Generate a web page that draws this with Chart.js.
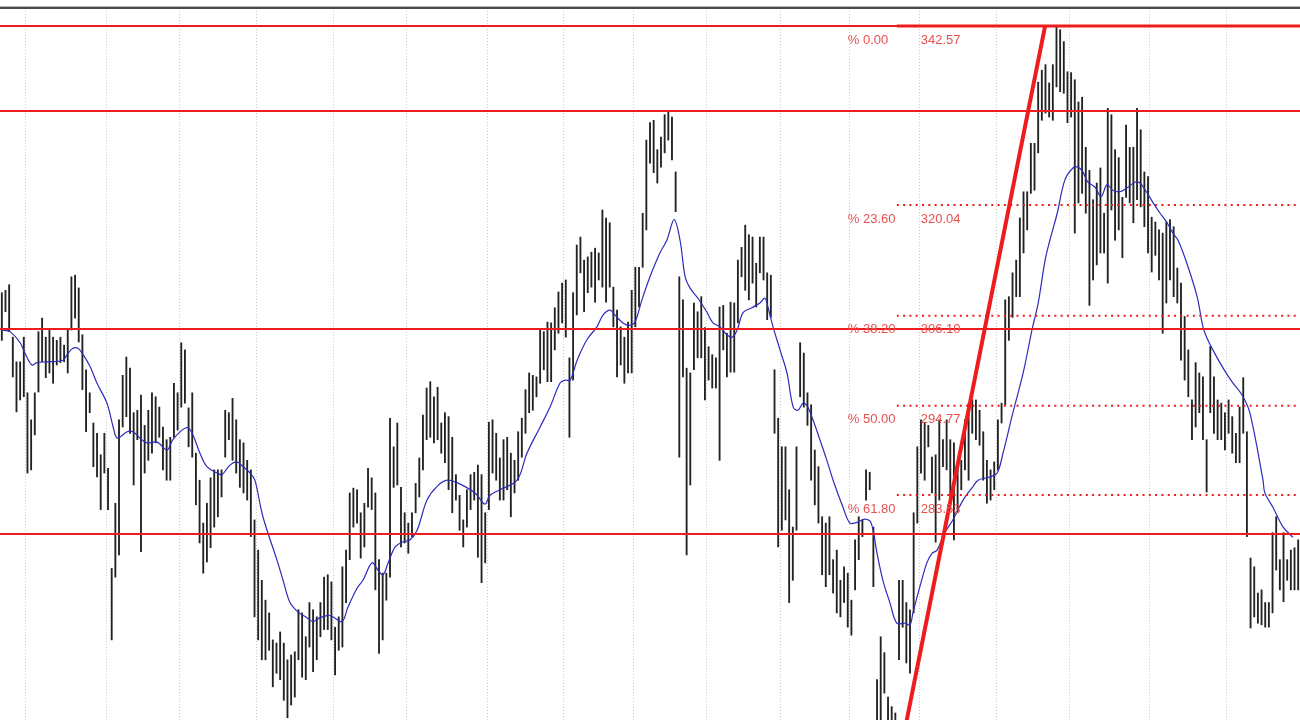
<!DOCTYPE html>
<html>
<head>
<meta charset="utf-8">
<script src="https://cdn.jsdelivr.net/npm/chart.js@4.4.1/dist/chart.umd.min.js"></script>
<style>
html,body{margin:0;padding:0;background:#fff;}
#wrap{width:1300px;height:720px;}
</style>
</head>
<body>
<div id="wrap"><canvas id="c" width="1300" height="720"></canvas></div>
<script>
// ---- DATA (prices) ----
const highs = [309.0,309.3,310.0,303.4,300.3,300.3,303.4,296.4,293.0,296.4,304.1,305.8,303.4,304.3,303.4,303.0,303.4,302.4,304.3,311.0,
311.2,309.6,303.7,299.3,296.4,292.6,291.3,288.6,291.3,286.9,274.3,282.5,293.0,298.6,300.9,299.5,293.9,294.2,296.1,292.3,
294.2,296.4,295.9,294.6,292.1,290.5,290.8,297.6,296.4,302.7,301.8,294.5,296.4,288.8,285.4,280.0,282.5,285.7,286.7,286.7,
286.7,294.2,293.9,295.7,293.0,290.5,290.1,287.9,286.7,280.4,276.6,272.8,270.3,268.7,265.3,264.9,266.3,264.9,262.8,263.4,
263.8,269.1,268.7,265.7,270.0,269.1,268.2,270.0,273.2,273.5,272.6,266.9,268.2,274.5,276.6,283.8,284.4,284.2,281.3,282.5,
286.9,285.7,283.8,275.4,273.7,273.7,293.2,289.6,292.6,284.5,281.3,280.0,281.3,285.0,288.2,293.6,297.0,297.8,295.9,297.1,
292.6,293.9,293.4,290.8,286.1,283.5,280.4,284.2,286.1,286.4,287.3,286.1,281.3,292.7,293.0,291.3,288.2,290.5,290.8,288.8,
287.9,291.5,293.2,296.8,298.9,298.6,298.4,304.3,304.1,305.3,305.2,307.1,309.1,310.2,310.6,300.8,309.0,315.0,316.0,313.1,
313.5,314.1,314.6,314.0,319.4,318.4,317.8,309.7,306.8,304.7,303.4,305.3,309.3,312.2,312.2,319.0,328.2,330.4,330.7,327.0,
328.6,331.4,331.7,331.1,324.2,311.0,308.1,299.5,298.9,307.7,306.6,308.5,304.6,302.2,301.2,300.8,307.2,307.4,303.9,307.8,
307.7,313.1,314.7,317.5,316.3,316.0,312.7,316.0,316.0,311.5,311.2,299.3,293.2,289.6,289.6,284.2,279.5,289.6,302.7,301.4,
296.4,294.9,289.2,287.1,280.8,280.0,280.8,275.4,276.6,272.8,274.5,273.7,270.3,277.9,280.8,280.4,286.7,286.4,279.5,260.3,
265.7,263.7,258.1,256.9,256.1,272.8,272.8,270.0,269.1,281.3,289.6,293.0,292.7,292.3,288.3,288.6,293.0,290.5,293.0,290.5,
290.1,287.1,287.9,293.0,295.1,295.5,295.5,294.2,291.5,287.9,286.7,287.7,293.0,295.1,308.1,308.5,311.5,313.1,318.4,321.7,
321.7,327.8,327.8,335.5,337.0,337.7,335.4,337.7,342.6,342.1,340.6,336.8,336.7,335.8,333.0,333.6,327.3,324.4,320.7,322.8,
324.7,319.0,332.2,331.4,327.0,326.0,321.0,330.1,327.3,327.3,332.2,329.5,324.2,323.6,318.5,317.9,316.9,316.5,317.9,318.2,
317.3,312.1,310.2,306.0,301.8,295.5,300.2,298.9,298.4,290.5,302.2,298.4,295.5,295.1,293.9,295.5,293.4,291.3,294.6,298.3,
291.5,275.6,274.5,271.2,271.6,270.0,270.0,278.8,280.8,275.4,278.8,275.4,276.6,276.9,277.9];

const lows = [303.0,306.6,304.1,298.4,294.0,295.5,295.9,286.3,286.7,291.1,296.5,300.3,298.3,298.9,297.6,299.9,300.2,300.3,298.9,304.3,
305.8,302.8,296.8,291.5,293.9,287.1,285.8,281.7,286.3,281.7,265.3,273.2,276.0,292.1,293.4,291.3,284.8,290.5,276.4,286.3,
287.9,288.8,290.1,290.8,286.7,285.4,285.4,290.8,291.7,294.6,295.1,289.6,288.3,282.3,277.5,273.7,275.1,276.9,279.5,280.8,
283.3,288.3,290.5,287.9,286.3,284.5,283.8,282.9,278.3,268.2,265.3,262.8,262.8,264.0,259.4,261.1,260.3,257.7,255.5,257.1,
258.1,262.8,260.6,260.3,264.4,261.3,262.8,265.7,266.6,266.6,265.3,260.9,264.0,264.4,270.0,275.4,279.5,280.0,275.6,277.0,
282.0,281.7,271.6,263.6,265.3,270.3,273.2,284.5,284.8,277.0,277.5,276.2,278.3,281.3,283.3,286.7,290.5,290.8,290.1,290.5,
288.8,287.6,284.2,281.3,282.9,279.1,277.0,279.5,281.7,282.9,275.7,272.5,275.0,281.7,286.3,285.4,282.9,282.9,284.2,280.8,
283.8,285.4,288.3,291.3,293.9,294.2,295.9,297.6,299.3,297.8,297.8,301.8,303.9,305.2,303.4,290.8,298.0,306.2,311.5,306.6,
309.0,309.7,307.8,310.6,309.7,307.8,309.7,304.7,298.4,299.9,297.6,298.9,298.9,304.7,307.2,312.2,316.9,325.3,324.1,322.8,
324.8,326.6,328.2,325.7,319.2,288.3,298.4,276.0,284.8,299.3,300.8,300.8,295.5,298.0,297.0,297.0,287.9,301.8,298.4,299.0,
299.0,305.2,311.0,309.3,308.1,310.2,307.2,311.5,310.6,305.6,305.9,291.3,277.0,279.1,280.4,270.0,272.8,279.1,295.9,294.6,
292.3,285.4,282.3,280.0,273.5,272.0,273.5,271.2,268.7,268.2,270.0,266.9,265.9,271.6,275.4,278.3,282.9,284.2,272.0,252.7,
252.7,258.6,250.2,247.1,247.1,262.8,266.9,262.4,261.1,268.7,280.0,286.3,285.4,289.6,283.8,277.6,282.9,287.1,286.7,282.9,
277.9,281.3,284.2,286.7,285.4,291.3,290.5,289.8,285.4,282.5,282.9,284.2,286.7,292.6,294.9,303.0,305.9,308.5,308.5,314.0,
316.9,321.5,321.9,326.6,330.7,331.6,331.1,330.7,334.9,334.3,334.1,330.4,331.1,316.5,320.3,321.5,319.0,307.4,310.6,312.5,
314.0,314.0,310.2,319.4,315.6,316.9,313.4,321.0,320.3,317.8,320.7,319.8,317.3,314.0,311.6,313.7,310.6,303.9,307.7,310.6,
308.5,307.7,300.5,298.0,295.9,290.5,292.1,293.9,290.5,283.9,293.9,291.3,290.5,290.5,289.2,291.3,288.8,287.6,287.6,291.3,
278.3,266.8,268.2,267.4,267.2,266.9,266.9,268.7,274.1,271.6,270.1,272.8,271.6,271.6,271.6];

// moving average read at sample bars (bar index, price)
const maIndex = [0,2.2,5.0,6.3,8.2,9.6,12.3,16.7,17.8,19.4,20.8,22.2,24.1,26.0,28.7,30.4,31.5,34.2,35.8,37.7,39.6,42.4,45.1,46.7,49.2,50.8,52.2,54.1,56.0,58.8,60.1,62.3,64.2,65.9,67.8,69.1,71.3,75.1,76.8,78.7,80.9,83.3,85.0,86.9,89.1,90.4,92.9,94.5,97.0,98.6,101.1,102.7,104.1,105.5,107.4,109.3,111.5,113.4,116.1,118.8,121.6,124.3,129.2,131.9,133.3,136.0,140.7,143.4,147.0,149.7,152.4,153.8,155.2,157.1,159.8,162.5,164.2,166.1,167.4,169.6,171.5,172.9,174.8,177.0,179.7,181.6,183.6,185.2,186.6,187.9,190.1,192.6,194.2,196.1,198.0,199.4,200.8,202.4,204.8,207.0,208.4,209.2,210.6,212.5,214.4,216.1,217.4,218.8,220.1,221.5,223.4,225.3,227.0,229.7,231.6,233.5,235.7,237.4,239.0,240.6,242.5,244.4,246.6,248.0,248.8,250.7,252.6,254.0,255.4,257.5,259.7,262.5,265.2,266.6,269.8,271.8,273.4,276.1,278.9,281.3,283.0,284.9,286.2,288.2,290.3,292.5,293.9,295.2,296.6,298.5,300.2,301.8,303.4,305.3,307.3,309.4,310.8,312.7,314.4,316.3,318.2,319.8,321.2,323.6,326.4,328.0,329.1,330.7,333.5,335.9,338.7,340.8,344.4,344.9,347.1,349.9,352.6];
const maValue = [304.3,304.1,302.7,301.4,299.9,300.2,300.3,300.5,301.2,302.0,302.0,301.2,299.7,297.6,295.1,292.1,290.7,291.5,291.5,290.7,290.1,290.2,289.2,290.5,291.7,292.0,291.1,288.8,287.1,286.3,286.1,287.3,287.7,287.1,286.3,285.4,280.8,275.4,272.8,270.0,268.8,268.1,267.6,268.1,268.4,268.2,267.6,269.4,271.8,272.8,275.0,274.1,273.5,275.0,277.0,277.6,277.9,279.1,282.9,284.6,285.4,285.1,283.8,282.4,283.5,284.2,285.4,288.8,292.1,294.6,297.6,298.0,298.0,300.5,303.1,304.7,306.2,306.8,306.2,305.2,304.9,305.3,308.1,311.0,314.0,315.6,318.2,315.6,311.0,309.6,308.3,306.5,305.2,304.7,303.7,303.4,304.3,306.5,307.1,307.7,308.3,307.2,304.7,301.8,298.9,294.6,294.2,295.1,294.6,293.0,290.5,287.9,285.4,282.0,280.0,280.1,280.5,280.0,276.2,272.8,270.0,267.4,267.4,267.2,268.7,272.0,275.0,276.2,276.6,278.8,280.4,282.9,284.6,285.4,285.8,286.3,288.8,293.9,298.9,304.3,307.7,313.1,315.6,319.0,323.2,324.7,324.8,324.2,322.9,322.3,321.1,322.6,321.9,321.7,322.2,322.9,322.8,321.6,320.3,319.0,317.8,316.5,315.6,312.7,308.5,304.7,303.3,301.8,299.5,297.8,296.1,293.9,285.4,283.8,282.0,279.5,278.2];

const levelValue = [342.57, 331.87, 304.43, 278.63];          // solid red horizontals
const fibPct     = [0, 23.6, 38.2, 50, 61.8];
const fibValue   = [342.57, 320.04, 306.10, 294.77, 283.53];
const fibStartIndex = 244.4;                                   // bar where the retracement starts
const trendIndex = [243.6, 284.9];                             // swing low -> swing high
const trendValue = [247.1, 342.57];
const monthStarts = [7,29,49,70,91,111,133,154,173,193,213,232,251,272,292,314,335];

// ---- CHART ----
const N = highs.length;
const labels = highs.map((_, i) => i);
const RED = '#ee1c1c';
const datasets = [];

datasets.push({
  type: 'bar', label: 'bars', xAxisID: 'x', yAxisID: 'y',
  data: lows.map((l, i) => [l, highs[i]]),
  backgroundColor: '#222222', borderWidth: 0, barThickness: 1.2, grouped: false, order: 6
});
datasets.push({
  type: 'line', label: 'ma', xAxisID: 'xl', yAxisID: 'y',
  data: maIndex.map((x, k) => ({x, y: maValue[k]})),
  borderColor: '#2c2cbc', borderWidth: 1.2, pointRadius: 0, tension: 0.35, fill: false, order: 5
});
levelValue.forEach(v => datasets.push({
  type: 'line', xAxisID: 'xl', yAxisID: 'y',
  data: [{x: -0.5, y: v}, {x: N - 0.5, y: v}],
  borderColor: RED, borderWidth: 2, pointRadius: 0, order: 4
}));
fibValue.forEach((v, k) => datasets.push({
  type: 'line', xAxisID: 'xl', yAxisID: 'y',
  data: [{x: fibStartIndex, y: v}, {x: N - 0.5, y: v}],
  borderColor: RED, borderWidth: k === 0 ? 3 : 2,
  borderDash: k === 0 ? [] : [2, 4.3], borderCapStyle: 'butt',
  pointRadius: 0, order: 3
}));
datasets.push({
  type: 'line', xAxisID: 'xl', yAxisID: 'y',
  data: trendIndex.map((x, k) => ({x, y: trendValue[k]})),
  borderColor: RED, borderWidth: 4, pointRadius: 0, order: 1
});

const overlay = {
  id: 'overlay',
  afterDatasetsDraw(chart) {
    const {ctx, chartArea, scales} = chart;
    const xl = scales.xl, y = scales.y;
    ctx.save();
    ctx.font = '13px "Liberation Sans", Arial, sans-serif';
    ctx.fillStyle = '#e85050';
    ctx.textBaseline = 'middle';
    ctx.textAlign = 'left';
    const x0 = xl.getPixelForValue(fibStartIndex);
    fibPct.forEach((p, k) => {
      const py = y.getPixelForValue(fibValue[k]) + 14;
      ctx.fillText('% ' + p.toFixed(2), x0 - 49, py);
      ctx.fillText(fibValue[k].toFixed(2), x0 + 24, py);
    });
    ctx.fillStyle = '#b5b5b5';
    ctx.fillRect(0, chartArea.top - 2, chart.width, 1);
    ctx.fillStyle = '#4a4a4a';
    ctx.fillRect(0, chartArea.top - 1, chart.width, 2);
    ctx.restore();
  }
};

new Chart(document.getElementById('c'), {
  type: 'bar',
  data: {labels, datasets},
  options: {
    responsive: false, animation: false, devicePixelRatio: 1,
    layout: {padding: {top: 8, left: 0, right: 0, bottom: 0}},
    plugins: {legend: {display: false}, tooltip: {enabled: false}},
    scales: {
      x: {type: 'category', display: false, offset: true},
      xl: {
        type: 'linear', position: 'bottom', min: -0.5, max: N - 0.5, offset: false,
        afterBuildTicks: axis => { axis.ticks = monthStarts.map(v => ({value: v - 0.5})); },
        afterFit: s => { s.height = 0; },
        ticks: {display: false},
        grid: {color: '#cccccc', lineWidth: 1, drawTicks: false, offset: false},
        border: {display: false, dash: [1, 2]}
      },
      y: {type: 'linear', min: 255.22, max: 344.83, display: false}
    }
  },
  plugins: [overlay]
});
</script>
</body>
</html>
